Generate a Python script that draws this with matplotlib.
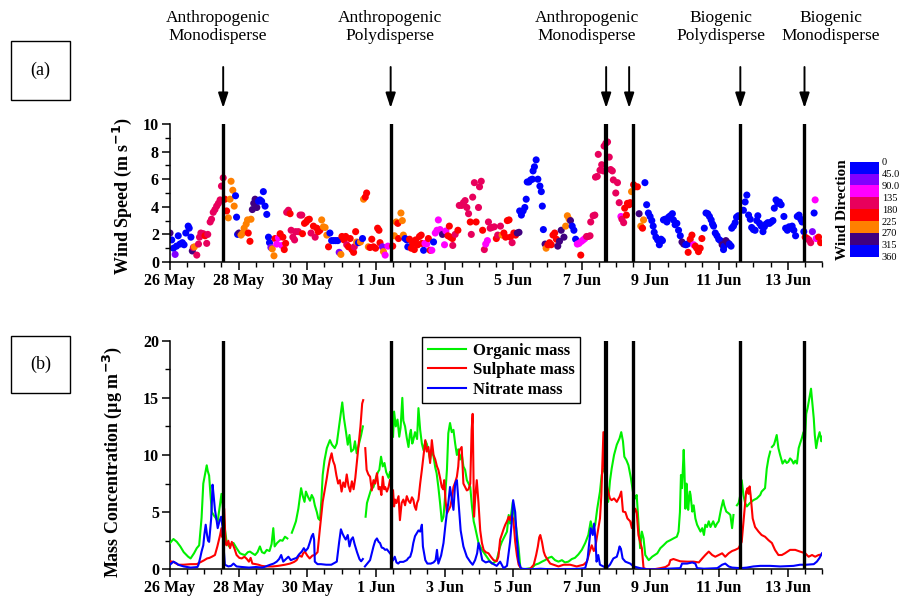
import numpy as np
import matplotlib
matplotlib.use("Agg")
import matplotlib.pyplot as plt
from matplotlib.colors import ListedColormap, BoundaryNorm
from matplotlib.cm import ScalarMappable
from matplotlib.patches import Rectangle
import matplotlib.transforms as mtransforms
from matplotlib.ticker import MultipleLocator

plt.rcParams['font.family'] = ['Liberation Serif', 'DejaVu Serif']

# ---------------- data (days since 26 May 00:00) ----------------
tick_days = [0, 2, 4, 6, 8, 10, 12, 14, 16, 18]
tick_labels = ['26 May', '28 May', '30 May', '1 Jun', '3 Jun', '5 Jun',
               '7 Jun', '9 Jun', '11 Jun', '13 Jun']

event_lines = [1.55, 6.43, 12.69, 12.74, 13.48, 16.62, 18.49]
arrow_days = [1.55, 6.43, 12.71, 13.38, 16.62, 18.49]
event_labels = ['Anthropogenic\nMonodisperse', 'Anthropogenic\nPolydisperse',
                'Anthropogenic\nMonodisperse', 'Biogenic\nPolydisperse',
                'Biogenic\nMonodisperse']
event_label_px = [218, 390, 587, 721, 831]

# wind: time, speed, direction
ws_t = [0.0, 0.05, 0.1, 0.15, 0.19, 0.24, 0.29, 0.36, 0.41, 0.46, 0.53, 0.56, 0.61, 0.65, 0.68, 0.71,
        0.78, 0.83, 0.86, 0.9, 0.97, 1.02, 1.07, 1.1, 1.17, 1.21, 1.26, 1.31, 1.36, 1.41, 1.46, 1.5,
        1.55, 1.6, 1.65, 1.7, 1.75, 1.78, 1.83, 1.87, 1.91, 1.94, 1.97, 2.01, 2.07, 2.12, 2.16, 2.22,
        2.26, 2.28, 2.33, 2.36, 2.4, 2.44, 2.48, 2.53, 2.58, 2.62, 2.67, 2.72, 2.77, 2.82, 2.87, 2.9,
        2.94, 2.98, 3.03, 3.06, 3.11, 3.16, 3.21, 3.26, 3.29, 3.33, 3.37, 3.4, 3.45, 3.5, 3.53, 3.58,
        3.63, 3.66, 3.74, 3.79, 3.84, 3.86, 3.92, 3.97, 4.01, 4.06, 4.11, 4.18, 4.23, 4.28, 4.32, 4.37,
        4.42, 4.47, 4.52, 4.57, 4.62, 4.66, 4.71, 4.77, 4.83, 4.89, 4.93, 4.98, 5.01, 5.07, 5.12, 5.15,
        5.2, 5.25, 5.3, 5.35, 5.37, 5.41, 5.44, 5.49, 5.55, 5.61, 5.64, 5.69, 5.73, 5.78, 5.83, 5.88,
        5.93, 5.99, 6.05, 6.09, 6.12, 6.19, 6.22, 6.27, 6.35, 6.49, 6.54, 6.59, 6.64, 6.66, 6.73, 6.77,
        6.8, 6.85, 6.9, 6.93, 6.98, 7.03, 7.07, 7.12, 7.16, 7.22, 7.27, 7.32, 7.34, 7.39, 7.43, 7.48,
        7.53, 7.58, 7.63, 7.68, 7.73, 7.78, 7.82, 7.87, 7.94, 8.0, 8.04, 8.1, 8.14, 8.17, 8.23, 8.24,
        8.31, 8.39, 8.43, 8.5, 8.55, 8.6, 8.65, 8.7, 8.75, 8.78, 8.82, 8.87, 8.92, 8.99, 9.02, 9.07,
        9.11, 9.16, 9.2, 9.25, 9.28, 9.33, 9.38, 9.45, 9.51, 9.55, 9.63, 9.68, 9.73, 9.78, 9.83, 9.88,
        9.92, 9.97, 10.02, 10.07, 10.12, 10.17, 10.19, 10.24, 10.29, 10.34, 10.38, 10.41, 10.46, 10.51,
        10.56, 10.58, 10.62, 10.67, 10.72, 10.78, 10.82, 10.85, 10.88, 10.93, 10.96, 11.01, 11.06,
        11.11, 11.16, 11.21, 11.26, 11.3, 11.35, 11.4, 11.48, 11.53, 11.58, 11.63, 11.67, 11.72,
        11.77, 11.82, 11.87, 11.92, 11.97, 11.99, 12.04, 12.09, 12.14, 12.19, 12.24, 12.26, 12.33,
        12.38, 12.4, 12.45, 12.48, 12.53, 12.58, 12.63, 12.65, 12.7, 12.75, 12.8, 12.84, 12.89, 12.92,
        12.99, 13.04, 13.09, 13.14, 13.17, 13.22, 13.25, 13.3, 13.33, 13.38, 13.41, 13.45, 13.51,
        13.55, 13.62, 13.67, 13.72, 13.77, 13.8, 13.84, 13.89, 13.94, 13.99, 14.04, 14.08, 14.11,
        14.16, 14.21, 14.26, 14.31, 14.35, 14.38, 14.43, 14.48, 14.53, 14.58, 14.64, 14.67, 14.72,
        14.77, 14.82, 14.87, 14.92, 14.97, 15.03, 15.08, 15.1, 15.16, 15.21, 15.26, 15.31, 15.35,
        15.4, 15.45, 15.5, 15.57, 15.62, 15.67, 15.72, 15.77, 15.81, 15.84, 15.89, 15.94, 15.99,
        16.04, 16.09, 16.13, 16.15, 16.2, 16.25, 16.3, 16.35, 16.37, 16.42, 16.47, 16.51, 16.56,
        16.71, 16.76, 16.81, 16.86, 16.91, 16.95, 17.0, 17.05, 17.1, 17.13, 17.18, 17.23, 17.28,
        17.32, 17.37, 17.42, 17.47, 17.52, 17.57, 17.61, 17.66, 17.71, 17.76, 17.81, 17.89, 17.94,
        17.99, 18.04, 18.08, 18.13, 18.18, 18.23, 18.28, 18.33, 18.38, 18.42, 18.47, 18.51, 18.57,
        18.62, 18.67, 18.72, 18.77, 18.8, 18.83, 18.9, 18.96]
ws_v = [2.1, 1.6, 1.0, 0.55, 1.15, 1.9, 1.3, 1.4, 1.25, 2.1, 2.6, 2.45, 1.8, 0.8, 1.05, 1.1,
        0.5, 1.3, 1.8, 2.1, 2.05, 1.9, 1.35, 2.0, 2.9, 3.1, 3.6, 3.8, 4.05, 4.25, 4.5, 5.5,
        6.1, 4.55, 3.7, 3.2, 4.55, 5.85, 5.2, 4.05, 4.8, 3.25, 2.0, 2.1, 1.95, 2.1, 2.45, 2.75,
        3.05, 2.1, 1.5, 3.1, 3.8, 4.25, 4.55, 3.95, 4.4, 4.5, 4.4, 5.1, 4.05, 3.45, 1.8, 1.4,
        1.05, 0.95, 0.45, 1.7, 1.3, 1.75, 2.05, 1.2, 1.8, 0.9, 1.35, 3.6, 3.75, 3.5, 2.3, 1.8,
        1.6, 2.2, 2.2, 3.4, 3.4, 2.05, 2.8, 2.9, 3.05, 3.1, 2.1, 2.6, 1.8, 2.45, 2.2, 2.3,
        3.05, 2.55, 2.5, 1.95, 1.1, 2.1, 1.55, 1.55, 1.55, 1.55, 0.7, 0.55, 1.85, 1.6, 1.85, 1.25,
        1.1, 1.7, 0.9, 0.7, 1.1, 2.2, 1.45, 1.4, 1.45, 1.7, 4.55, 4.7, 5.0, 1.1, 1.05, 1.65,
        1.1, 1.0, 2.45, 2.3, 1.4, 1.1, 0.75, 0.5, 1.15, 1.15, 1.9, 2.9, 2.8, 1.7, 3.55, 3.0,
        1.95, 1.7, 1.6, 1.1, 1.65, 1.0, 1.35, 0.9, 1.6, 1.25, 1.85, 1.95, 1.35, 0.85, 1.35, 1.3,
        1.7, 0.85, 0.85, 1.45, 2.1, 2.3, 3.05, 2.35, 2.0, 1.25, 2.25, 1.9, 2.6, 1.8, 1.7, 1.2,
        2.0, 2.3, 4.1, 4.1, 4.3, 4.45, 3.95, 3.5, 2.9, 2.0, 4.7, 5.75, 2.9, 3.95, 5.45, 5.85,
        2.3, 0.9, 1.3, 1.55, 2.9, 2.45, 2.5, 2.55, 1.7, 1.95, 2.6, 1.95, 2.1, 1.8, 3.0, 3.05,
        1.8, 1.4, 2.1, 1.95, 2.1, 2.15, 3.7, 3.4, 3.7, 3.95, 4.55, 5.8, 5.8, 5.95,
        6.0, 6.6, 6.9, 7.4, 6.0, 5.5, 5.1, 4.05, 2.35, 1.3, 1.0, 1.25, 1.4,
        1.25, 1.95, 2.1, 1.65, 1.15, 1.5, 2.3, 1.8, 2.6, 3.35, 3.1, 3.0, 2.6,
        2.3, 1.65, 1.3, 1.35, 0.5, 1.5, 1.6, 1.7, 1.85, 1.85, 1.9, 2.9, 3.35,
        3.4, 6.15, 6.2, 7.8, 6.65, 7.05, 6.6, 8.4, 8.6, 8.7, 7.6, 6.7, 6.6, 5.95,
        5.0, 5.75, 4.3, 3.3, 3.1, 2.85, 3.9, 3.4, 4.25, 4.15, 4.3, 5.1, 5.6,
        5.45, 5.45, 3.5, 2.6, 2.45, 3.05, 5.75, 4.15, 3.55, 3.3, 3.0, 2.6, 2.15,
        1.8, 1.6, 1.25, 1.65, 1.55, 3.05, 3.1, 2.9, 3.25, 3.35, 3.5, 3.05, 2.7,
        2.8, 2.3, 1.9, 1.45, 1.3, 1.25, 1.3, 0.7, 1.65, 1.95, 1.25, 1.15, 1.0,
        0.75, 1.0, 1.7, 2.45, 3.55, 3.5, 3.3, 3.05, 2.75, 2.6, 2.1, 1.9, 1.65,
        1.55, 1.25, 0.9, 1.15, 1.55, 1.4, 1.3, 1.15, 2.45, 2.6, 2.85, 3.25, 3.35,
        3.75, 4.35, 4.85, 3.4, 3.1, 2.5, 2.35, 2.3, 3.0, 3.35, 2.8, 2.6, 2.2,
        2.55, 2.75, 2.85, 2.8, 2.9, 3.0, 3.9, 4.5, 4.25, 4.35, 4.15, 3.3, 2.45,
        2.3, 2.55, 2.45, 2.6, 2.3, 1.9, 3.3, 3.4, 3.1, 2.9, 2.2, 1.8, 1.7,
        1.6, 1.4, 2.2, 3.55, 4.5, 1.7, 1.8, 1.4]
# direction codes (degrees)
B, V, M, C, R, O, P = 20, 65, 110, 160, 200, 250, 290
ws_dir = [P, B, B, V, B, B, B, B, B, B, B, B, B, P, C, O,
          C, C, C, C, C, R, C, C, C, C, C, C, C, C, C, C,
          C, R, R, O, O, O, O, O, B, B, B, P, O, O, O, O,
          O, R, R, O, P, P, P, P, B, B, B, B, B, B, B, B,
          V, O, O, R, M, M, R, M, R, R, R, C, C, R, C, C,
          C, C, C, C, C, R, R, R, R, R, C, R, C, R, R, R,
          O, O, O, O, R, B, B, B, B, B, V, O, R, R, R, C,
          R, R, R, R, C, R, O, B, O, B, O, R, R, O, R, R,
          R, R, R, R, R, V, O, M, M, R, O, O, R, R, O, O,
          O, B, B, B, R, R, R, R, R, R, R, R, R, B, M, M,
          R, R, M, B, M, M, M, M, P, M, M, R, R, R, R, C,
          C, R, C, C, C, C, C, C, R, C, C, C, R, C, C, C,
          R, C, M, M, C, C, C, C, R, C, C, O, R, R, R, R,
          R, C, R, R, P, P, B, B, B, B, B, B, B, B,
          B, B, B, B, B, B, B, B, B, P, O, R, R,
          R, R, R, R, P, P, P, P, O, O, O, P, B,
          B, B, M, M, R, M, M, M, C, C, C, C, C,
          C, C, C, C, C, C, C, C, C, C, C, C, C, C,
          C, C, C, M, C, C, R, R, R, R, R, O, R,
          R, R, P, O, R, O, B, B, B, B, B, B, B,
          B, B, B, B, B, B, B, B, B, B, B, B, B,
          B, B, B, P, P, B, B, R, R, R, M, R, R,
          R, R, R, B, B, B, B, B, B, B, B, B, B,
          B, P, B, B, P, P, B, B, B, B, B, B, B,
          B, B, B, B, B, B, B, B, B, B, B, B, B,
          B, B, B, B, B, B, B, B, B, B, B, B, B,
          B, B, B, B, B, B, B, B, B, B, B, R, R,
          C, C, V, B, M, M, R, R]

# aerosol mass concentrations
org_t = [0.0, 0.1, 0.2, 0.3, 0.4, 0.53, 0.6, 0.7, 0.78, 0.85, 0.92, 0.97, 1.02, 1.07, 1.1, 1.14,
         1.18, 1.22, 1.28, 1.33, 1.39, 1.45, 1.5, 1.55, 1.6, 1.65, 1.72, 1.78, 1.85, 1.95, 2.04,
         2.12, 2.19, 2.27, 2.33, 2.4, 2.48, 2.55, 2.62, 2.68, 2.75, 2.82, 2.9, 2.96, 3.01, 3.05,
         3.12, 3.21, 3.28, 3.35, 3.42, 3.48, 3.55, 3.6, 3.67, 3.74, 3.82, 3.87, 3.92, 3.96, 4.02,
         4.08, 4.13, 4.18, 4.22, 4.28, 4.32, 4.37, 4.41, 4.45, 4.5, 4.57, 4.62, 4.66, 4.72, 4.8,
         4.86, 4.93, 4.98, 5.02, 5.07, 5.13, 5.18, 5.23, 5.28, 5.35, 5.39, 5.44, 5.5, 5.57, 5.62,
         5.66, 5.7, 5.74, 5.8, 5.86, 5.93, 6.0, 6.06, 6.1, 6.15, 6.2, 6.25, 6.3, 6.37, 6.41, 6.46,
         6.5, 6.53, 6.58, 6.63, 6.68, 6.72, 6.77, 6.8, 6.85, 6.9, 6.95, 6.99, 7.02, 7.06, 7.09,
         7.14, 7.2, 7.24, 7.29, 7.34, 7.39, 7.44, 7.48, 7.53, 7.58, 7.63, 7.68, 7.73, 7.77, 7.82,
         7.87, 7.92, 7.97, 8.02, 8.07, 8.11, 8.16, 8.21, 8.26, 8.31, 8.36, 8.4, 8.45, 8.5, 8.55,
         8.6, 8.65, 8.7, 8.75, 8.8, 8.85, 8.89, 8.94, 8.99, 9.04, 9.09, 9.16, 9.23, 9.3, 9.38,
         9.45, 9.52, 9.57, 9.62, 9.67, 9.72, 9.77, 9.82, 9.87, 9.91, 9.95, 9.99, 10.03, 10.09,
         10.13, 10.16, 10.21, 10.3, 10.4, 10.54, 10.64, 10.74, 10.84, 10.93, 11.03, 11.12, 11.22,
         11.32, 11.42, 11.51, 11.61, 11.71, 11.8, 11.9, 12.0, 12.1, 12.19, 12.26, 12.32, 12.39,
         12.45, 12.53, 12.58, 12.63, 12.68, 12.72, 12.77, 12.82, 12.87, 12.94, 13.02, 13.1, 13.15,
         13.2, 13.24, 13.3, 13.36, 13.43, 13.49, 13.56, 13.6, 13.65, 13.7, 13.75, 13.8, 13.85,
         13.95, 14.05, 14.2, 14.29, 14.38, 14.48, 14.58, 14.67, 14.77, 14.82, 14.86, 14.89, 14.92,
         14.95, 14.97, 14.99, 15.02, 15.05, 15.07, 15.1, 15.12, 15.15, 15.17, 15.22, 15.26, 15.31,
         15.36, 15.41, 15.46, 15.51, 15.56, 15.6, 15.65, 15.7, 15.75, 15.8, 15.83, 15.89, 15.94,
         15.99, 16.06, 16.12, 16.15, 16.21, 16.28, 16.33, 16.38, 16.42, 16.47, 16.52, 16.57, 16.62,
         16.66, 16.71, 16.76, 16.81, 16.9, 17.0, 17.1, 17.2, 17.24, 17.34, 17.39, 17.44, 17.49,
         17.52, 17.54, 17.6, 17.63, 17.68, 17.73, 17.78, 17.85, 17.92, 17.97, 18.02, 18.07, 18.12,
         18.17, 18.22, 18.27, 18.32, 18.36, 18.41, 18.46, 18.5, 18.54, 18.58, 18.64, 18.68, 18.71,
         18.76, 18.79, 18.83, 18.88, 18.93, 18.98, 19.0]
org_v = [2.3, 2.65, 2.4, 2.0, 1.5, 1.1, 0.95, 1.4, 1.85, 2.1, 4.5, 7.5, 8.3, 9.1, 8.6, 8.2,
         6.5, 5.0, 4.7, 4.5, 4.2, 5.5, 6.6, 5.2, 3.5, 2.4, 2.0, 2.2, 2.3, 1.8, 1.4,
         1.3, 1.25, 1.5, 1.55, 1.4, 1.25, 1.5, 2.0, 1.5, 1.4, 1.7, 1.6, 2.2, 3.6, 2.0,
         2.3, 2.55, 2.5, 2.85, 2.7, np.nan, 3.2, 3.6, 4.2, 5.3, 7.1, 6.4, 5.9, 6.8, 6.35,
         6.0, 6.5, 6.2, 5.6, 5.0, 4.45, 4.3, 6.0, 8.25, 9.5, 10.6, 11.0, 11.3, 10.9, 10.6,
         11.0, 12.6, 13.8, 14.6, 13.2, 12.0, 10.9, 11.75, 10.3, 10.5, 11.2, 10.15, 10.9, 11.75, 12.5,
         np.nan, 4.6, 5.8, 6.4, 7.0, 7.2, 8.0, 8.5, 8.7, 9.85, 9.0, 9.3, 8.5, 8.0, 8.5, np.nan,
         11.6, 13.8, 12.5, 13.1, 11.6, 12.4, 15.0, 13.0, 12.5, 11.5, 10.7, 11.8, 12.2, 11.0, 11.3,
         12.0, 11.4, 14.1, 12.2, 11.0, 10.4, 11.2, 11.0, 10.4, 9.6, 10.5, 9.85, 8.9, 8.4, 7.2,
         5.8, 4.2, 4.6, 6.5, 8.7, 11.9, 12.8, 12.0, 12.2, 11.0, 10.0, 10.5, 9.6, 10.1, 9.0,
         8.7, 7.8, 7.5, 7.2, 5.5, 4.2, 3.7, 3.0, 2.3, 2.0, 1.7, 1.4, 1.1, 0.8, 0.5,
         0.6, 0.8, 1.4, 2.0, 2.4, 2.7, 3.0, 3.3, 4.75, 4.0, 5.0, 5.9, 4.8, 3.6,
         2.6, 1.85, 0.1, 0.0, 0.05, 0.1, 0.4, 0.5, 0.67, 0.8, 1.0, 1.1, 0.8,
         0.67, 0.8, 0.6, 0.67, 0.9, 1.0, 1.3, 1.7, 2.3, 3.0, 4.2, 3.45, 3.9,
         5.3, 6.8, 8.25, 8.8, 8.5, 7.5, 5.9, 7.7, 8.8, 10.0, 10.9, 11.45, 12.0,
         11.2, 9.85, 9.55, 9.1, 8.0, 6.8, 6.2, 6.5, 4.2, 1.85, 3.3, 2.7, 1.25,
         0.8, 1.1, 1.4, 1.85, 2.1, 2.4, 2.55, 2.7, 2.85, 3.3, 5.0, 8.25, 7.1,
         9.0, 10.45, 8.8, 5.3, 7.5, 6.8, 5.2, 5.9, 6.8, 6.5, 5.05, 5.6, 4.45,
         3.9, 3.6, 3.3, 3.6, 3.0, 3.9, 3.7, 4.2, 3.7, 4.0, 4.2, 3.7, 4.0,
         4.2, 5.3, 6.05, 5.6, 5.05, 4.9, 4.75, 3.6, 4.75, np.nan, 5.6, 5.8, 6.5,
         7.8, 6.5, 5.8, 5.5, 5.8, 6.05, 6.2, 6.5, 6.8, 7.1, 8.8, 9.7, 10.3,
         np.nan, 10.7, 10.9, 11.2, 11.75, 10.6, 10.0, 9.25, 9.55, 9.3, 9.4, 9.7, 9.55,
         9.25, 9.5, 9.25, 10.6, 11.0, 11.45, 12.0, 11.0, 13.6, 14.1, 15.1, 15.8, 14.8,
         13.2, 11.75, 10.6, 11.45, 12.0, 11.2, 11.6]

sul_t = [0.0, 0.1, 0.24, 0.4, 0.6, 0.78, 0.92, 1.0, 1.08, 1.15, 1.22, 1.31, 1.38, 1.46, 1.5, 1.53,
         1.58, 1.62, 1.65, 1.7, 1.75, 1.8, 1.88, 1.94, 2.02, 2.09, 2.17, 2.24, 2.3, 2.35, 2.4,
         2.5, 2.58, 2.67, 2.8, 3.0, 3.15, 3.25, 3.35, 3.5, 3.62, 3.69, 3.76, 3.84, 3.88, 3.93,
         4.0, 4.07, 4.15, 4.22, 4.3, 4.37, 4.42, 4.45, 4.52, 4.57, 4.61, 4.66, 4.71, 4.75, 4.8,
         4.85, 4.9, 4.95, 5.0, 5.05, 5.1, 5.15, 5.2, 5.25, 5.3, 5.35, 5.4, 5.45, 5.5, 5.55,
         5.6, 5.63, 5.66, 5.69, 5.73, 5.78, 5.83, 5.88, 5.93, 5.98, 6.03, 6.08, 6.12, 6.16, 6.2,
         6.24, 6.27, 6.32, 6.37, 6.41, 6.46, 6.5, 6.53, 6.56, 6.6, 6.66, 6.7, 6.75, 6.8, 6.85,
         6.9, 6.95, 7.0, 7.05, 7.09, 7.13, 7.17, 7.2, 7.24, 7.29, 7.34, 7.39, 7.44, 7.48, 7.53,
         7.58, 7.63, 7.68, 7.73, 7.78, 7.82, 7.87, 7.92, 7.96, 7.99, 8.03, 8.07, 8.12, 8.17, 8.22,
         8.26, 8.31, 8.36, 8.4, 8.43, 8.5, 8.55, 8.6, 8.65, 8.7, 8.75, 8.79, 8.82, 8.86, 8.9,
         8.94, 8.99, 9.04, 9.09, 9.14, 9.2, 9.28, 9.35, 9.43, 9.52, 9.57, 9.62, 9.72, 9.77, 9.82,
         9.87, 9.91, 9.96, 10.0, 10.03, 10.06, 10.11, 10.16, 10.23, 10.35, 10.5, 10.6, 10.67, 10.72,
         10.76, 10.79, 10.84, 10.89, 10.93, 10.98, 11.08, 11.18, 11.32, 11.47, 11.66, 11.85, 12.05,
         12.15, 12.23, 12.29, 12.35, 12.39, 12.45, 12.53, 12.57, 12.59, 12.63, 12.66, 12.7, 12.77,
         12.82, 12.87, 12.94, 13.02, 13.1, 13.15, 13.2, 13.27, 13.33, 13.41, 13.46, 13.51, 13.56,
         13.6, 13.65, 13.7, 13.75, 13.8, 13.9, 14.1, 14.29, 14.44, 14.54, 14.58, 14.67, 14.87,
         15.07, 15.26, 15.41, 15.51, 15.6, 15.7, 15.8, 15.89, 15.99, 16.09, 16.18, 16.28, 16.38,
         16.47, 16.57, 16.66, 16.73, 16.79, 16.83, 16.86, 16.89, 16.92, 16.98, 17.05, 17.15, 17.24,
         17.34, 17.44, 17.54, 17.63, 17.73, 17.83, 17.92, 18.07, 18.22, 18.36, 18.51, 18.61, 18.71,
         18.8, 18.9, 19.0]
sul_v = [0.7, 0.65, 0.4, 0.4, 0.45, 0.45, 0.67, 0.8, 0.95, 1.0, 1.1, 1.25, 2.0, 3.0, 3.6, 2.8,
         5.3, 2.2, 2.1, 2.5, 1.85, 2.4, 1.8, 1.25, 1.0, 0.95, 1.1, 0.9, 0.67, 1.0, 0.5,
         0.45, 0.4, 0.3, 0.25, 0.25, 0.3, 0.35, 0.4, 0.5, 0.65, 0.8, 1.2, 1.1, 1.4, 1.55,
         1.2, 0.95, 1.2, 1.25, 1.5, 3.6, 5.0, 5.9, 7.1, 8.0, 8.8, 9.6, 10.15, 9.5, 9.1,
         8.2, 7.5, 7.8, 6.8, 7.6, 7.2, 8.3, 7.3, 6.8, 7.7, 7.0, 8.0, 9.5, 11.0, 12.5,
         14.5, 14.8, np.nan, 10.6, 8.7, 8.3, 8.1, 6.9, 7.8, 7.5, 8.4, 7.0, 7.2, 6.5, 8.1,
         7.0, 7.2, 6.8, 7.2, 7.8, np.nan, 6.9, 5.5, 6.1, 5.8, 6.4, 4.3, 5.8, 6.1, 5.6,
         6.4, 6.0, 5.8, 6.3, 6.1, 5.5, 5.2, 5.8, 6.1, 7.5, 8.7, 10.0, 11.3, 10.3, 10.7,
         9.3, 11.3, 10.0, 9.6, 9.0, 8.7, 8.0, 7.2, 7.0, 7.8, 6.0, 4.9, 5.2, 5.5, 6.3,
         7.2, 7.6, 8.1, 9.0, 10.4, 10.7, 7.5, 7.2, 6.9, 7.0, 7.5, 12.2, 13.6, 4.6, 6.5,
         7.8, 5.8, 3.4, 2.3, 1.7, 1.5, 1.4, 1.1, 0.8, 0.7, 1.1, 2.6, 3.5, 3.9, 4.2,
         4.6, 4.3, 4.75, 4.4, 3.5, 2.4, 1.2, 0.4, 0.05, 0.0, 0.05, 0.4, 1.25, 2.0,
         2.8, 3.0, 2.4, 1.55, 1.2, 0.95, 0.5, 0.4, 0.25, 0.4, 0.4, 0.25, 0.4,
         0.67, 1.55, 2.1, 1.6, 1.85, 3.0, 4.45, 6.5, 8.25, 12.0, 8.8, 7.7, 6.8,
         6.2, 6.05, 6.2, 5.9, 6.35, 6.8, 5.05, 5.0, 4.45, 4.2, 3.6, 4.75, 5.3,
         5.0, 3.0, 2.4, 1.85, 0.1, 0.0, 0.0, 0.1, 0.2, 0.4, 0.8, 0.9, 0.7,
         0.67, 0.67, 0.6, 0.95, 1.25, 1.55, 1.25, 1.1, 1.25, 1.4, 1.1, 1.4, 1.6,
         1.7, 1.85, 2.4, 4.75, 6.8, 7.1, 6.6, 7.25, 6.5, 4.45, 3.7, 3.3, 3.0,
         2.85, 2.55, 2.3, 1.7, 1.25, 1.25, 1.4, 1.7, 1.7, 1.55, 1.4, 1.1, 1.25,
         1.1, 1.25, 1.3]

nit_t = [0.0, 0.1, 0.2, 0.24, 0.4, 0.6, 0.8, 0.83, 0.88, 0.92, 0.97, 1.0, 1.04, 1.08, 1.11, 1.14,
         1.2, 1.24, 1.27, 1.31, 1.35, 1.39, 1.44, 1.49, 1.53, 1.56, 1.6, 1.7, 1.78, 1.85, 1.94,
         2.1, 2.3, 2.5, 2.7, 2.92, 3.02, 3.11, 3.18, 3.24, 3.3, 3.38, 3.45, 3.52, 3.6, 3.69,
         3.76, 3.84, 3.9, 3.95, 4.02, 4.08, 4.13, 4.17, 4.2, 4.22, 4.3, 4.4, 4.55, 4.7, 4.86,
         4.93, 4.98, 5.03, 5.08, 5.12, 5.18, 5.23, 5.28, 5.33, 5.38, 5.45, 5.52, 5.57, 5.62, 5.65,
         5.68, 5.75, 5.83, 5.88, 5.93, 5.98, 6.03, 6.08, 6.12, 6.17, 6.22, 6.27, 6.32, 6.37, 6.41,
         6.46, 6.5, 6.55, 6.6, 6.65, 6.7, 6.8, 6.9, 6.95, 7.0, 7.05, 7.09, 7.14, 7.19, 7.24,
         7.29, 7.34, 7.37, 7.44, 7.5, 7.6, 7.68, 7.74, 7.78, 7.82, 7.9, 7.97, 8.02, 8.07, 8.11,
         8.16, 8.2, 8.26, 8.31, 8.36, 8.41, 8.47, 8.55, 8.65, 8.75, 8.82, 8.89, 8.95, 8.99, 9.04,
         9.1, 9.2, 9.3, 9.4, 9.52, 9.62, 9.72, 9.82, 9.91, 9.96, 10.0, 10.06, 10.1, 10.16, 10.23,
         10.5, 10.8, 11.08, 11.5, 11.94, 12.1, 12.17, 12.23, 12.26, 12.32, 12.36, 12.4, 12.43, 12.48,
         12.53, 12.63, 12.72, 12.82, 12.92, 13.02, 13.07, 13.1, 13.14, 13.19, 13.27, 13.41, 13.51,
         13.7, 13.9, 14.2, 14.49, 14.87, 14.92, 15.07, 15.22, 15.31, 15.36, 15.56, 15.95, 16.09,
         16.18, 16.28, 16.38, 16.62, 16.81, 17.0, 17.2, 17.49, 17.78, 18.17, 18.36, 18.54, 18.76,
         18.85, 18.93, 19.0]
nit_v = [0.4, 0.67, 0.5, 0.4, 0.25, 0.15, 0.2, 0.4, 1.0, 1.55, 2.1, 3.0, 3.9, 3.0, 2.5, 2.4,
         4.45, 7.4, 6.5, 5.2, 4.45, 3.6, 4.2, 4.6, 3.7, 2.0, 0.4, 0.25, 0.3, 0.5, 0.25,
         0.2, 0.15, 0.2, 0.15, 0.4, 0.5, 0.67, 0.9, 1.25, 0.67, 0.9, 1.1, 0.8, 0.9, 1.0,
         1.3, 1.55, 1.85, 1.6, 1.85, 2.4, 2.9, 3.1, 2.6, 0.67, 0.45, 0.45, 0.4, 0.4, 0.67,
         2.4, 3.5, 3.1, 2.8, 2.6, 3.0, 2.0, 2.6, 2.8, 2.2, 1.5, 0.9, 0.7, 0.9, np.nan,
         0.25, 0.5, 0.8, 1.4, 2.0, 2.5, 2.7, 2.4, 2.3, 1.9, 1.85, 1.7, 1.75, 1.55, 1.4,
         np.nan, 0.8, 1.1, 0.6, 0.5, 0.65, 0.65, 0.8, 1.0, 1.1, 1.6, 2.3, 2.9, 3.15, 3.4,
         3.3, 3.9, 2.0, 0.8, 0.5, 0.5, 0.6, 0.8, 1.7, 0.5, 1.2, 2.3, 3.7, 5.0, 5.8,
         7.2, 6.4, 5.2, 7.5, 7.8, 5.8, 3.4, 2.0, 1.1, 0.65, 0.4, 0.8, 1.4, 2.3, 1.7,
         0.8, 0.6, 0.7, 0.5, 0.3, 0.67, 0.1, 0.3, 2.4, 4.2, 6.05, 5.0, 3.0, 0.67, 0.05,
         0.0, 0.05, 0.0, 0.0, 0.05, 0.1, 0.95, 2.7, 3.6, 3.0, 4.0, 2.5, 0.67, 1.25,
         0.4, 0.25, 0.1, 0.4, 0.95, 1.1, 1.6, 2.0, 1.8, 0.95, 0.67, 0.5, 0.25,
         0.1, 0.0, 0.0, 0.05, 0.1, 0.5, 0.5, 0.6, 0.5, 0.1, 0.05, 0.1, 0.4,
         0.5, 0.25, 0.15, 0.1, 0.15, 0.25, 0.3, 0.3, 0.25, 0.3, 0.4, 0.4, 0.45,
         0.67, 1.0, 1.4]

dir_bounds = [0, 45, 90, 135, 180, 225, 270, 315, 360]
dir_tick_labels = ['0', '45.0', '90.0', '135', '180', '225', '270', '315', '360']
dir_colors = ['#0000FF', '#8000FF', '#FF00FF', '#E8005C', '#FF0000', '#FF8000', '#400080', '#0000FF']

# ---------------- figure ----------------
W, H = 902, 597
fig = plt.figure(figsize=(W / 100, H / 100), dpi=100)

def fbox(x0, y0, x1, y1):
    return [x0 / W, 1 - y1 / H, (x1 - x0) / W, (y1 - y0) / H]

ax1 = fig.add_axes(fbox(170, 124, 822, 262))
ax2 = fig.add_axes(fbox(170, 340.7, 822, 569.3))

cmap = ListedColormap(dir_colors)
norm = BoundaryNorm(dir_bounds, cmap.N)

ax1.scatter(ws_t, ws_v, c=ws_dir, cmap=cmap, norm=norm, s=26, linewidths=0, zorder=2)
ax1.set_ylim(0, 10)
ax1.yaxis.set_major_locator(MultipleLocator(2))
ax1.yaxis.set_minor_locator(MultipleLocator(1))
ax1.set_ylabel('Wind Speed (m s$^{\\mathbf{-1}}$)', fontsize=13, fontweight='bold')
ax1.yaxis.set_label_coords(-0.055, 0.48)

ax2.plot(org_t, org_v, color='#00F000', lw=1.5, label='Organic mass', zorder=3)
ax2.plot(sul_t, sul_v, color='#FF0000', lw=1.5, label='Sulphate mass', zorder=3)
ax2.plot(nit_t, nit_v, color='#0000FF', lw=1.5, label='Nitrate mass', zorder=3)
ax2.set_ylim(0, 20)
ax2.yaxis.set_major_locator(MultipleLocator(5))
ax2.yaxis.set_minor_locator(MultipleLocator(2.5))
ax2.set_ylabel('Mass Concentration (\u00b5g m$^{\\mathbf{-3}}$)', fontsize=13, fontweight='bold')
ax2.yaxis.set_label_coords(-0.071, 0.47)

for ax in (ax1, ax2):
    ax.set_xlim(0, 19)
    ax.set_xticks(tick_days)
    ax.set_xticklabels(tick_labels)
    ax.xaxis.set_minor_locator(MultipleLocator(0.5))
    for s in ('top', 'right'):
        ax.spines[s].set_visible(False)
    for s in ('left', 'bottom'):
        ax.spines[s].set_linewidth(1.1)
    ax.tick_params(which='major', length=6, width=1.1, direction='out', labelsize=11.5, pad=2)
    ax.tick_params(which='minor', length=3.5, width=1.0, direction='out')
    for lab in ax.get_xticklabels() + ax.get_yticklabels():
        lab.set_fontweight('bold')
    for xd in event_lines:
        lw = 1.6 if xd in (12.69, 12.74) else 2.4
        ax.axvline(xd, color='black', lw=lw, zorder=4)

leg = ax2.legend(loc='upper left', bbox_to_anchor=(422 / W, 1 - 337 / H),
                 bbox_transform=fig.transFigure, borderaxespad=0, fancybox=False,
                 edgecolor='black', framealpha=1, handlelength=2.3, labelspacing=0.2,
                 borderpad=0.35, handletextpad=0.4,
                 prop={'family': 'Liberation Serif', 'weight': 'bold', 'size': 12})
leg.get_frame().set_linewidth(1.0)
leg.set_zorder(6)

# colourbar
cax = fig.add_axes(fbox(850, 161.7, 879, 256.7))
cb = fig.colorbar(ScalarMappable(norm=norm, cmap=cmap), cax=cax, ticks=dir_bounds)
cb.ax.invert_yaxis()
cb.ax.set_yticklabels(dir_tick_labels)
cb.ax.tick_params(length=0, labelsize=7.5, pad=2)
cb.outline.set_visible(False)
cb.ax.yaxis.set_label_position('left')
cb.set_label('Wind Direction', fontsize=11, fontweight='bold', labelpad=1)

# arrows and event labels
trans = mtransforms.blended_transform_factory(ax1.transData, fig.transFigure)
for xd in arrow_days:
    ax1.annotate('', xy=(xd, 1 - 108 / H), xytext=(xd, 1 - 67 / H), xycoords=trans,
                 textcoords=trans, annotation_clip=False,
                 arrowprops=dict(arrowstyle='-|>,head_length=0.9,head_width=0.3',
                                 color='black', lw=1.4, shrinkA=0, shrinkB=0))
for lab, px in zip(event_labels, event_label_px):
    fig.text(px / W, 1 - 27 / H, lab, ha='center', va='center', fontsize=12.5,
             linespacing=1.2)

# panel labels
for (y0, y1, txt) in [(41, 100, '(a)'), (336, 393, '(b)')]:
    fig.add_artist(Rectangle((11 / W, 1 - y1 / H), 59 / W, (y1 - y0) / H,
                             transform=fig.transFigure, fill=False, lw=1.0, ec='black'))
    fig.text(40.5 / W, 1 - (y0 + y1) / 2 / H, txt, ha='center', va='center', fontsize=13)

fig.savefig('out.png', dpi=100)
